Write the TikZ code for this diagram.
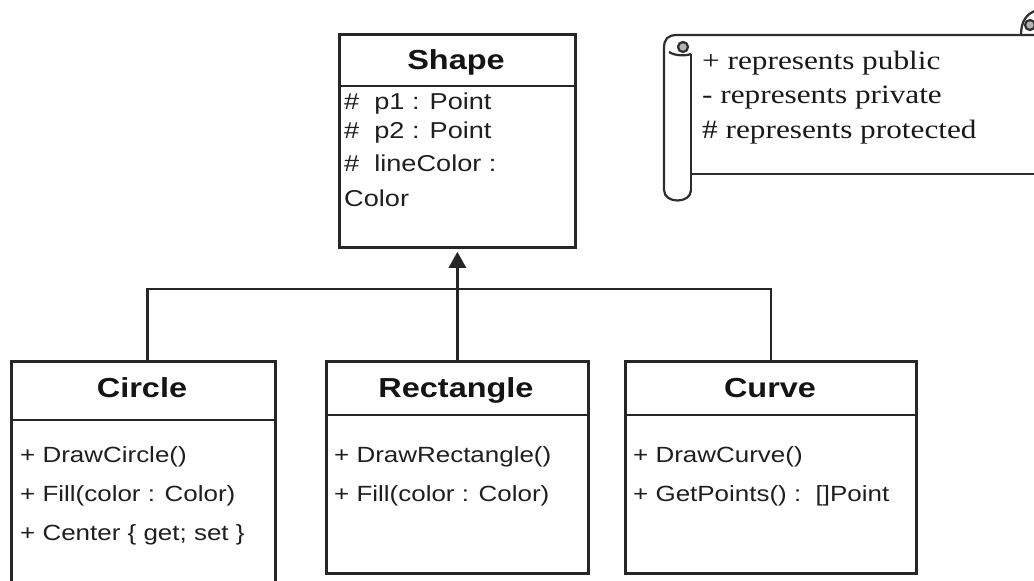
\documentclass[tikz,border=0pt]{standalone}
\usepackage{fontspec}
\usepackage{graphicx}
\setmainfont{Liberation Serif}
\newfontfamily\arialf{Liberation Sans}
\usetikzlibrary{arrows.meta}
\newcommand{\stretchx}[1]{\scalebox{1.18}[1]{#1}}
\begin{document}
\begin{tikzpicture}[x=1pt,y=-1pt,
  ln/.style={draw=black!85, line width=2.8pt},
  classbox/.style={ln, rectangle, inner sep=0pt, anchor=north west},
  titletext/.style={font=\arialf\bfseries\fontsize{27.5}{32}\selectfont, inner sep=0pt, anchor=base, text=black!92},
  attr/.style={font=\arialf\fontsize{23}{27}\selectfont, inner sep=0pt, anchor=west, text=black!88},
  meth/.style={font=\arialf\fontsize{22}{26}\selectfont, inner sep=0pt, anchor=west, text=black!88},
  notetext/.style={font=\fontsize{26.5}{30}\selectfont, inner sep=0pt, anchor=west, text=black!90},
  scroll/.style={draw=black!82, line width=2.2pt},
]
\clip (0,0) rectangle (1034,581);
\fill[white] (0,0) rectangle (1034,581);

% Shape class
\node[classbox, minimum width=236pt, minimum height=213pt] (shape) at (338,33) {};
\draw[ln] (338,86) -- (574,86);
\node[titletext] (shapeT) at (456,69) {\stretchx{Shape}};
\node[attr] (sa1) at (344,104) {\stretchx{\#\ \ p1 : Point}};
\node[attr] (sa2) at (344,133) {\stretchx{\#\ \ p2 : Point}};
\node[attr] (sa3) at (344,163) {\stretchx{\#\ \ lineColor :}};
\node[attr] (sa4) at (344,198) {\stretchx{Color}};

% Circle class
\node[classbox, minimum width=264pt, minimum height=240pt] (circ) at (10,360) {};
\draw[ln] (10,420) -- (274,420);
\node[titletext] (circT) at (142,397) {\stretchx{Circle}};
\node[meth] (cm1) at (20,457) {\stretchx{+ DrawCircle()}};
\node[meth] (cm2) at (20,496) {\stretchx{+ Fill(color : Color)}};
\node[meth] (cm3) at (20,535) {\stretchx{+ Center \{ get; set \}}};

% Rectangle class
\node[classbox, minimum width=262pt, minimum height=212pt] (rect) at (325,360) {};
\draw[ln] (325,415) -- (587,415);
\node[titletext] (rectT) at (456,397) {\stretchx{Rectangle}};
\node[meth] (rm1) at (334,457) {\stretchx{+ DrawRectangle()}};
\node[meth] (rm2) at (334,496) {\stretchx{+ Fill(color : Color)}};

% Curve class
\node[classbox, minimum width=291pt, minimum height=212pt] (curv) at (624,360) {};
\draw[ln] (624,415) -- (915,415);
\node[titletext] (curvT) at (770,397) {\stretchx{Curve}};
\node[meth] (um1) at (633,457) {\stretchx{+ DrawCurve()}};
\node[meth] (um2) at (633,496) {\stretchx{+ GetPoints() :\ \ []Point}};

% Generalisation connectors
\coordinate (j) at (457,289);
\draw[ln] ([xshift=4pt]circ.north) |- (j) -| (curv.north);
\draw[ln, -{Triangle[length=16pt,width=17pt]}, shorten >=3pt] (rect.north) -- (shape.south);

% Note (scroll)
\fill[white] (664,35) rectangle (1034,174);
\draw[scroll] (664,190) -- (664,48) .. controls (664,39) and (668,35) .. (677,35) -- (1040,35);
\draw[scroll] (691,54) -- (691,190);
\draw[scroll] (664,190) .. controls (664,204) and (691,204) .. (691,190);
\draw[scroll] (691,174) -- (1040,174);
\draw[scroll, fill=black!30] (683,47) circle (5pt);
\draw[scroll] (669,52) .. controls (675,56) and (686,56) .. (691,54);
\draw[scroll] (1021,35) .. controls (1021,22) and (1026,13) .. (1038,10);
\draw[scroll, fill=black!30] (1030,25) circle (5pt);
\node[notetext] (n1) at (702,63) {\stretchx{+ represents public}};
\node[notetext] (n2) at (702,98) {\stretchx{- represents private}};
\node[notetext] (n3) at (702,132) {\stretchx{\# represents protected}};
\end{tikzpicture}
\end{document}
